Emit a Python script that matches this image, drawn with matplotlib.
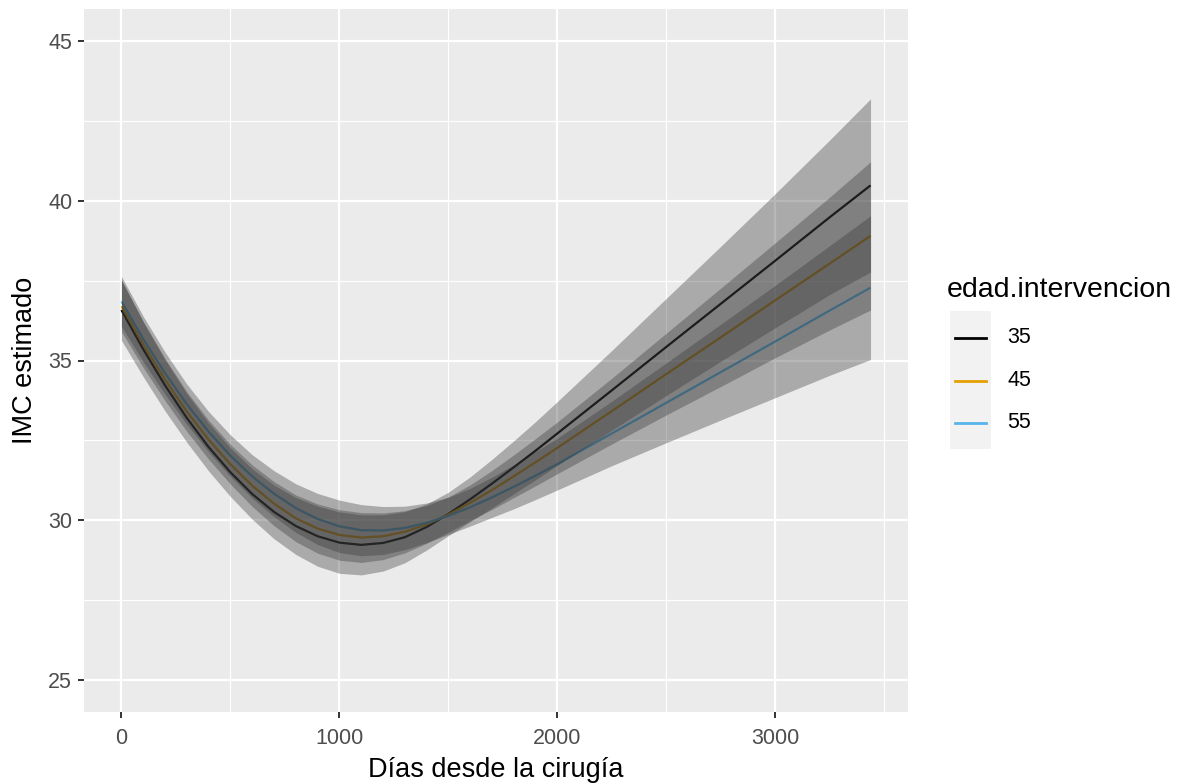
import matplotlib
matplotlib.use("Agg")
import matplotlib.pyplot as plt
from matplotlib.lines import Line2D
from matplotlib.patches import Rectangle
import numpy as np

plt.rcParams['font.family'] = ['Liberation Sans', 'DejaVu Sans']

# Days since surgery at which the model predictions are evaluated
dias = [0, 100, 200, 300, 400, 500, 600, 700, 800, 900, 1000,
        1100, 1200, 1300, 1400, 1500, 1600, 1700, 1800, 1900, 2000,
        2250, 2500, 2750, 3000, 3250, 3436]

# Predicted BMI for each age at surgery
imc_35 = [36.58, 35.35, 34.22, 33.20, 32.29, 31.50, 30.82, 30.26, 29.82, 29.50, 29.30,
          29.23, 29.29, 29.47, 29.79, 30.20, 30.66, 31.15, 31.66, 32.18, 32.72,
          34.07, 35.43, 36.78, 38.13, 39.49, 40.48]
imc_45 = [36.70, 35.50, 34.40, 33.40, 32.52, 31.75, 31.08, 30.52, 30.06, 29.74, 29.54,
          29.46, 29.50, 29.64, 29.87, 30.18, 30.55, 30.95, 31.38, 31.82, 32.27,
          33.42, 34.58, 35.73, 36.89, 38.04, 38.90]
imc_55 = [36.85, 35.67, 34.60, 33.63, 32.77, 32.02, 31.37, 30.83, 30.38, 30.04, 29.81,
          29.69, 29.68, 29.76, 29.92, 30.14, 30.41, 30.72, 31.05, 31.40, 31.76,
          32.72, 33.68, 34.64, 35.60, 36.57, 37.28]

# Half-width of the confidence band for each age
ic_35 = [0.95, 0.86, 0.80, 0.76, 0.75, 0.76, 0.79, 0.84, 0.89, 0.94, 0.96,
         0.94, 0.88, 0.80, 0.72, 0.68, 0.70, 0.76, 0.83, 0.91, 1.00,
         1.25, 1.52, 1.80, 2.10, 2.42, 2.71]
ic_45 = [0.80, 0.72, 0.66, 0.62, 0.61, 0.62, 0.65, 0.69, 0.73, 0.77, 0.79,
         0.78, 0.73, 0.66, 0.59, 0.55, 0.56, 0.61, 0.67, 0.74, 0.81,
         1.03, 1.28, 1.54, 1.80, 2.08, 2.32]
ic_55 = [0.78, 0.71, 0.66, 0.63, 0.63, 0.65, 0.68, 0.72, 0.76, 0.80, 0.82,
         0.80, 0.75, 0.68, 0.62, 0.58, 0.59, 0.63, 0.69, 0.75, 0.81,
         1.01, 1.25, 1.50, 1.76, 2.03, 2.25]

edades = ["35", "45", "55"]
colores = ["#000000", "#E69F00", "#56B4E9"]

x_ticks = [0, 1000, 2000, 3000]
y_ticks = [25, 30, 35, 40, 45]

W, H = 1184, 783
fig = plt.figure(figsize=(W / 100, H / 100), dpi=100)
fig.patch.set_facecolor("white")

left, right, top, bottom = 84, 908, 9, 712
ax = fig.add_axes([left / W, 1 - bottom / H, (right - left) / W, (bottom - top) / H])
ax.set_facecolor("#EBEBEB")
for s in ax.spines.values():
    s.set_visible(False)

x = np.array(dias, dtype=float)
series = [(imc_35, ic_35), (imc_45, ic_45), (imc_55, ic_55)]

for (y, ic), col in zip(series, colores):
    ax.plot(x, y, color=col, lw=1.6, zorder=3, solid_capstyle="butt",
            solid_joinstyle="round")
for (y, ic), col in zip(series, colores):
    y = np.array(y)
    ic = np.array(ic)
    ax.fill_between(x, y - ic, y + ic, color="#333333", alpha=0.35, lw=0, zorder=4)

xmin, xmax = 0, 3436
pad = 0.05 * (xmax - xmin)
ax.set_xlim(xmin - pad, xmax + pad)
ax.set_ylim(24, 46)

ax.set_xticks(x_ticks)
ax.set_xticklabels([str(v) for v in x_ticks])
ax.set_yticks(y_ticks)
ax.set_yticklabels([str(v) for v in y_ticks])
ax.set_xticks([500, 1500, 2500, 3500], minor=True)
ax.set_yticks([27.5, 32.5, 37.5, 42.5], minor=True)

ax.grid(which="major", color="white", lw=1.6, zorder=1)
ax.grid(which="minor", color="white", lw=0.8, zorder=1)
ax.set_axisbelow(True)

ax.tick_params(which="major", length=4.5, width=1.4, color="#333333",
               labelcolor="#4D4D4D", labelsize=15.5)
ax.tick_params(axis="x", which="major", pad=7)
ax.tick_params(axis="y", which="major", pad=4)
ax.tick_params(which="minor", length=0)

ax.set_xlabel("Días desde la cirugía", fontsize=19.5, color="black", labelpad=6)
ax.set_ylabel("IMC estimado", fontsize=19.5, color="black", labelpad=7)

# Legend drawn by hand in figure pixel coordinates
def fx(px):
    return px / W

def fy(py):
    return 1 - py / H

fig.text(fx(947), fy(290), "edad.intervencion", fontsize=20.5, color="black",
         ha="left", va="center")
fig.add_artist(Rectangle((fx(950), fy(449)), fx(991) - fx(950), fy(311) - fy(449),
                         transform=fig.transFigure, facecolor="#F2F2F2",
                         edgecolor="none"))
for i, (lab, col) in enumerate(zip(edades, colores)):
    yc = 338 + i * 42.5
    fig.add_artist(Line2D([fx(955), fx(986)], [fy(yc), fy(yc)],
                          transform=fig.transFigure, color=col, lw=2.0))
    fig.text(fx(1007), fy(yc), lab, fontsize=15.5, color="black",
             ha="left", va="center")

fig.savefig("out.png", dpi=100)
